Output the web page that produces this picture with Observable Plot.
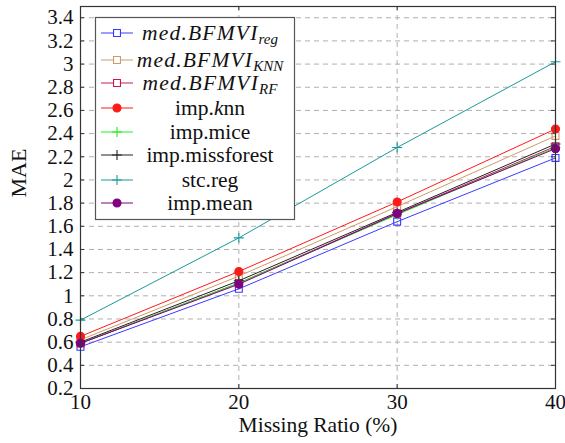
<!DOCTYPE html>
<html><head><meta charset="utf-8">
<script src="https://cdn.jsdelivr.net/npm/d3@7"></script>
<script src="https://cdn.jsdelivr.net/npm/@observablehq/plot@0.6"></script>
<style>
html,body{margin:0;padding:0;background:#fff;}
</style>
</head><body>
<div id="chart"></div>
<script>
const ratios = [10, 20, 30, 40];
const medReg = [0.56, 1.06, 1.64, 2.19];
const medKNN = [0.62, 1.17, 1.77, 2.38];
const medRF = [0.59, 1.11, 1.71, 2.29];
const impKnn = [0.65, 1.21, 1.81, 2.44];
const impMice = [0.59, 1.11, 1.70, 2.28];
const impMissforest = [0.60, 1.13, 1.72, 2.31];
const stcReg = [0.79, 1.50, 2.28, 3.02];
const impMean = [0.59, 1.10, 1.71, 2.27];
const yTicks = [0.2,0.4,0.6,0.8,1,1.2,1.4,1.6,1.8,2,2.2,2.4,2.6,2.8,3,3.2,3.4];
const xTicks = [10, 20, 30, 40];
const FONT = "Liberation Serif";

const series = [
  {name: "medReg", base: "med.BFMVI", sub: "reg", italic: true, values: medReg, color: "#3a3aff", symbol: "square", filled: false},
  {name: "medKNN", base: "med.BFMVI", sub: "KNN", italic: true, values: medKNN, color: "#d09a6a", symbol: "square", filled: false},
  {name: "medRF", base: "med.BFMVI", sub: "RF", italic: true, values: medRF, color: "#c8185a", symbol: "square", filled: false},
  {name: "impKnn", label: "imp.", labelIt: "k", labelEnd: "nn", values: impKnn, color: "#ff1a1a", symbol: "circle", filled: true},
  {name: "impMice", label: "imp.mice", values: impMice, color: "#22ee22", symbol: "plus", filled: false},
  {name: "impMissforest", label: "imp.missforest", values: impMissforest, color: "#222222", symbol: "plus", filled: false},
  {name: "stcReg", label: "stc.reg", values: stcReg, color: "#1a9a9a", symbol: "plus", filled: false},
  {name: "impMean", label: "imp.mean", values: impMean, color: "#800080", symbol: "circle", filled: true}
];
const symR = {square: 3.9, circle: 4, plus: 3.3};

const marks = [
  Plot.gridY(yTicks, {stroke: "#b0b0b0", strokeOpacity: 1, strokeDasharray: "5,4"}),
  Plot.gridX([20, 30], {stroke: "#b0b0b0", strokeOpacity: 1, strokeDasharray: "5,4"}),
  Plot.tickY(yTicks, {y: d => d, stroke: "#333", insetRight: 471}),
  Plot.tickY(yTicks, {y: d => d, stroke: "#333", insetLeft: 471}),
  Plot.tickX(xTicks, {x: d => d, stroke: "#333", insetTop: 378}),
  Plot.tickX(xTicks, {x: d => d, stroke: "#333", insetBottom: 378}),
  Plot.axisY(yTicks, {tickSize: 0, tickPadding: 7, fontSize: 21, tickFormat: d => String(+d.toFixed(1)), label: null, fill: "#111"}),
  Plot.axisX(xTicks, {tickSize: 0, tickPadding: 6, fontSize: 21, label: null, fill: "#111"}),
  Plot.text(["MAE"], {frameAnchor: "left", dx: -62, rotate: -90, fontSize: 22, fill: "#111"}),
  Plot.text(["Missing Ratio (%)"], {frameAnchor: "bottom", dy: 43, fontSize: 21.5, fill: "#111"})
];
for (const s of series) {
  const data = ratios.map((r, i) => ({x: r, y: s.values[i]}));
  marks.push(Plot.line(data, {x: "x", y: "y", stroke: s.color, strokeWidth: 1}));
  marks.push(Plot.dot(data, {x: "x", y: "y", symbol: s.symbol, r: symR[s.symbol],
    stroke: s.color, fill: s.filled ? s.color : "none", strokeWidth: 1.1}));
}
marks.push(Plot.frame({stroke: "#333", strokeWidth: 1.2}));

const chart = Plot.plot({
  width: 565, height: 443,
  marginLeft: 80, marginRight: 10, marginTop: 6, marginBottom: 55,
  x: {domain: [10, 40]},
  y: {domain: [0.2, 3.497]},
  style: {color: "#111", background: "white"},
  marks
});
document.getElementById("chart").appendChild(chart);

// legend
const svg = d3.select(chart);
const lg = svg.append("g");
lg.append("rect").attr("x", 95.5).attr("y", 17.5).attr("width", 199).attr("height", 202)
  .attr("fill", "white").attr("stroke", "#555").attr("stroke-width", 1.2);
const symGen = {square: d3.symbolSquare, circle: d3.symbolCircle, plus: d3.symbolPlus};
const rowY = [33, 60, 83, 108, 132, 155, 180, 203];
series.forEach((s, i) => {
  const y = rowY[i];
  lg.append("line").attr("x1", 101).attr("x2", 133).attr("y1", y).attr("y2", y).attr("stroke", s.color).attr("stroke-width", 1);
  const r = symR[s.symbol];
  lg.append("path").attr("d", d3.symbol(symGen[s.symbol], Math.PI * r * r)())
    .attr("transform", `translate(117,${y})`)
    .attr("stroke", s.color).attr("stroke-width", 1.1)
    .attr("fill", s.filled ? s.color : "white");
  const t = lg.append("text").attr("x", 210).attr("y", y + 7).attr("text-anchor", "middle")
    .attr("font-size", 21.5).attr("fill", "#111");
  if (s.italic) {
    t.append("tspan").attr("font-style", "italic").attr("letter-spacing", "1.2").text(s.base);
    t.append("tspan").attr("font-style", "italic").attr("font-size", 15).attr("dy", 4).text(s.sub);
  } else if (s.labelIt) {
    t.append("tspan").text(s.label);
    t.append("tspan").attr("font-style", "italic").text(s.labelIt);
    t.append("tspan").text(s.labelEnd);
  } else {
    t.text(s.label);
  }
});
chart.removeAttribute("font-family");
chart.querySelectorAll("[font-family]").forEach(el => el.removeAttribute("font-family"));
chart.querySelectorAll("style").forEach(st => { st.textContent = st.textContent.replace(/font-family:[^;]*;/g, ""); });
chart.setAttribute("font-family", FONT);
chart.style.fontFamily = FONT;
chart.querySelectorAll("text, tspan").forEach(el => { el.setAttribute("font-family", FONT); el.style.fontFamily = FONT; });
</script>
</body></html>
